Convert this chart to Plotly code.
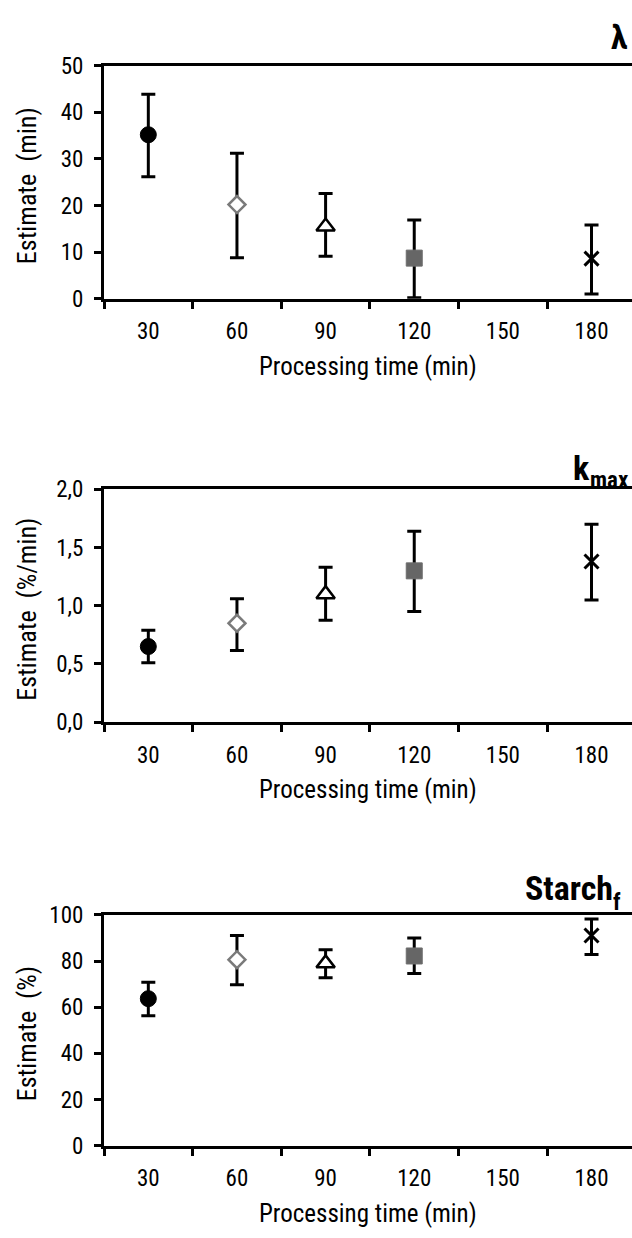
import plotly.graph_objects as go

# ---- data ----
times = [30, 60, 90, 120, 180]
tick_labels = ["30", "60", "90", "120", "150", "180"]
tick_positions = [30, 60, 90, 120, 150, 180]
boundaries = [15, 45, 75, 105, 135, 165, 195]

lag = [35.2, 20.2, 15.5, 8.7, 8.6]
lag_hi = [43.9, 31.2, 22.6, 16.9, 15.8]
lag_lo = [26.2, 8.8, 9.1, 0.2, 1.0]

kmax = [0.65, 0.85, 1.10, 1.30, 1.38]
kmax_hi = [0.79, 1.06, 1.33, 1.64, 1.70]
kmax_lo = [0.51, 0.615, 0.875, 0.95, 1.05]

starch = [63.7, 80.6, 79.0, 82.2, 91.1]
starch_hi = [70.8, 91.1, 84.9, 90.0, 98.2]
starch_lo = [56.3, 69.7, 72.8, 74.6, 82.8]

panel_main = ["λ", "k", "Starch"]
panel_sub = ["", "max", "f"]
y_titles = ["Estimate\u00a0 (min)", "Estimate\u00a0 (%/min)", "Estimate\u00a0 (%)"]
x_title = "Processing time (min)"

# ---- style ----
W, H = 632, 1238
FONT = "Liberation Sans Narrow, Arial Narrow, Roboto Condensed, DejaVu Sans Condensed, sans-serif"
symbols = ["circle", "diamond", "triangle-up", "square", "x-thin"]
fills = ["black", "white", "white", "#666666", "black"]
edges = ["black", "#7a7a7a", "black", "#6e6e6e", "black"]
edge_w = [1, 2.5, 2.5, 1, 3]
sizes = [16, 13, 16, 16, 14]

# panel pixel geometry (top, bottom) in px from top
panels = [(54, 292), (487, 725), (922, 1158)]
x_left_px = 104

series = [(lag, lag_hi, lag_lo), (kmax, kmax_hi, kmax_lo), (starch, starch_hi, starch_lo)]
yranges = [[0, 50], [0, 2], [0, 100]]
ydticks = [10, 0.5, 20]
yformats = ["d", ".1f", "d"]

fig = go.Figure()
layout = dict(
    width=W, height=H,
    margin=dict(l=0, r=0, t=0, b=0),
    paper_bgcolor="white", plot_bgcolor="white",
    showlegend=False,
    separators=",.",
    font=dict(family=FONT, color="black", size=23),
)
annotations = []

for i, (vals, hi, lo) in enumerate(series):
    n = i + 1
    xa = "x" if n == 1 else f"x{n}"
    ya = "y" if n == 1 else f"y{n}"
    plus = [h - v for h, v in zip(hi, vals)]
    minus = [v - l for v, l in zip(vals, lo)]
    fig.add_trace(go.Scatter(
        x=times, y=vals, mode="markers", xaxis=xa, yaxis=ya,
        marker=dict(symbol=symbols, color=fills, size=sizes, opacity=1,
                    line=dict(color=edges, width=edge_w)),
        error_y=dict(type="data", symmetric=False, array=plus, arrayminus=minus,
                     color="black", thickness=3, width=7),
        cliponaxis=False,
    ))
    top, bot = panels[i]
    d0 = 1 - bot / H
    d1 = 1 - top / H
    xkey = "xaxis" if n == 1 else f"xaxis{n}"
    ykey = "yaxis" if n == 1 else f"yaxis{n}"
    layout[xkey] = dict(
        domain=[x_left_px / W, 1], range=[15, 193.7], anchor=ya,
        showline=True, linecolor="black", linewidth=3, mirror=True,
        showgrid=False, zeroline=False,
        tickmode="array", tickvals=tick_positions, ticktext=tick_labels,
        ticks="", ticklabelstandoff=10,
        tickfont=dict(family=FONT, size=23, color="black"),
        minor=dict(tickmode="array", tickvals=boundaries, ticks="outside",
                   ticklen=7, tickwidth=3, tickcolor="black", showgrid=False),
        fixedrange=True,
    )
    layout[ykey] = dict(
        domain=[d0, d1], range=yranges[i], anchor=xa,
        showline=True, linecolor="black", linewidth=3, mirror=False,
        showgrid=False, zeroline=False,
        tickmode="linear", tick0=0, dtick=ydticks[i], tickformat=yformats[i],
        ticks="outside", ticklen=7, tickwidth=3, tickcolor="black",
        ticklabelstandoff=6,
        tickfont=dict(family=FONT, size=23, color="black"),
        fixedrange=True,
    )
    # y title
    annotations.append(dict(
        text=y_titles[i], xref="paper", yref="paper",
        x=27 / W, y=1 - ((top + bot) / 2 + 4) / H,
        xanchor="center", yanchor="middle", textangle=-90, showarrow=False,
        font=dict(family=FONT, size=26, color="black"),
    ))
    # x title
    annotations.append(dict(
        text=x_title, xref="paper", yref="paper",
        x=(x_left_px + W) / 2 / W, y=1 - (bot + 69) / H,
        xanchor="center", yanchor="middle", showarrow=False,
        font=dict(family=FONT, size=25, color="black"),
    ))

# panel titles (main text right-anchored at the junction, subscript left-anchored there)
junction_x = [628, 590, 613]
main_y = [25, 465, 895]
sub_y = [0, 478, 909]
for i in range(3):
    annotations.append(dict(
        text="<b>" + panel_main[i] + "</b>", xref="paper", yref="paper",
        x=(junction_x[i] + (0 if not panel_sub[i] else 1)) / W, y=1 - main_y[i] / H,
        xanchor="right", yanchor="middle", showarrow=False, borderpad=0,
        font=dict(family=FONT, size=34, color="black"),
    ))
    if panel_sub[i]:
        annotations.append(dict(
            text="<b>" + panel_sub[i] + "</b>", xref="paper", yref="paper",
            x=(junction_x[i] - 1) / W, y=1 - sub_y[i] / H,
            xanchor="left", yanchor="middle", showarrow=False, borderpad=0,
            font=dict(family=FONT, size=23, color="black"),
        ))

layout["annotations"] = annotations
fig.update_layout(**layout)
fig.write_html(
    "out.html",
    config={"displayModeBar": False},
    post_script="document.body.style.margin='0px';"
                "document.documentElement.style.overflow='hidden';",
)
